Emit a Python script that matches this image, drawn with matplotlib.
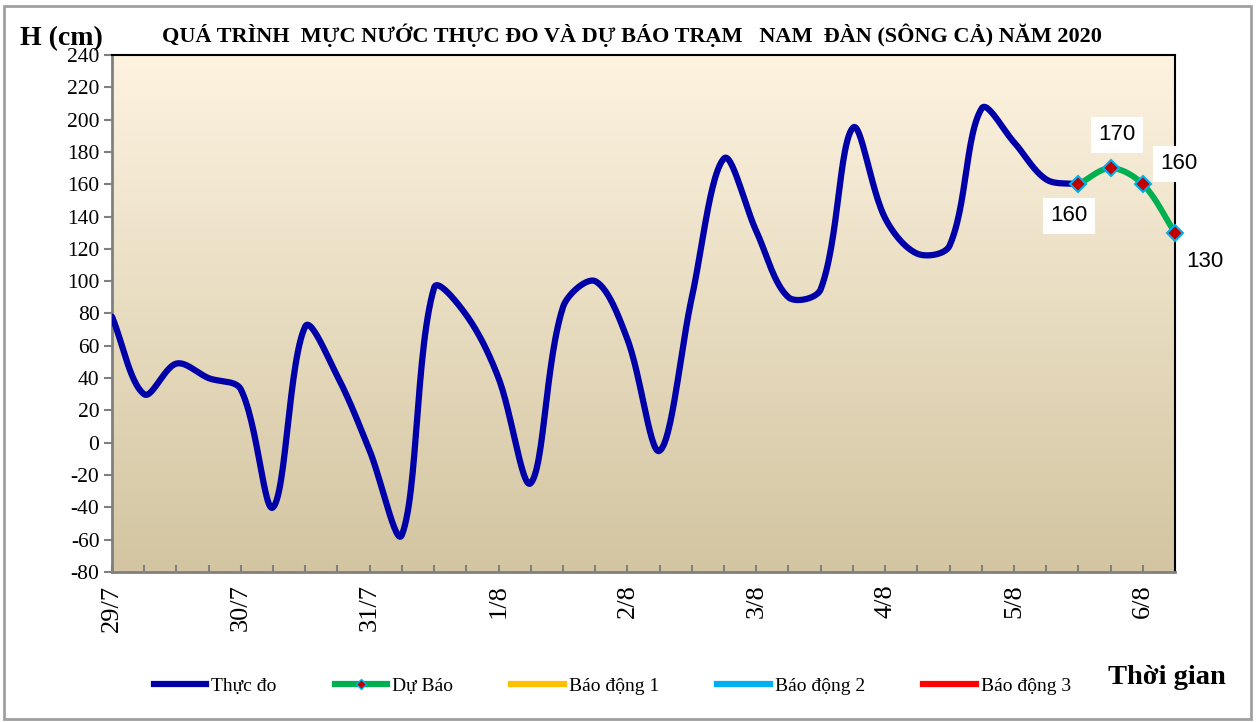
import numpy as np
import matplotlib
matplotlib.use("Agg")
import matplotlib.pyplot as plt
from matplotlib.lines import Line2D
from matplotlib.patches import Rectangle

plt.rcParams['axes.unicode_minus'] = False

# water level every 6 hours, 29/7 00h .. 6/8 06h
observed = [78, 30, 49, 40, 33, -40, 72, 41, -5, -57, 96, 79, 40, -25, 84, 100,
            64, -5, 90, 176, 131, 90, 95, 195, 139, 117, 122, 207, 186, 163, 160]
forecast = [160, 170, 160, 130]
forecast_start = 30
day_labels = ['29/7', '30/7', '31/7', '1/8', '2/8', '3/8', '4/8', '5/8', '6/8']
forecast_label_pos = [(-0.29, -19.5), (0.19, 20.6), (1.12, 12.6), (0.92, -18)]

serif = ['Liberation Serif', 'DejaVu Serif']

n_total = forecast_start + len(forecast)
AX_RECT = [0.0891, 0.2078, 0.8457, 0.716]
FIG_W, FIG_H = 1257, 722
px_x = AX_RECT[2] * FIG_W / (n_total - 1)
px_y = AX_RECT[3] * FIG_H / 320


def smooth(x, y, n=30):
    # bezier smoothing done in pixel space, arms scaled by segment lengths
    p = np.column_stack([np.asarray(x, float) * px_x, np.asarray(y, float) * px_y])
    m = len(p)
    tang_in, tang_out = [], []
    for i in range(m):
        a = p[max(i - 1, 0)]
        b = p[min(i + 1, m - 1)]
        d = b - a
        l0 = np.hypot(*(p[i] - a))
        l1 = np.hypot(*(b - p[i]))
        tot = l0 + l1 if l0 + l1 > 0 else 1
        tang_in.append(d / 6 * 2 * l0 / tot)
        tang_out.append(d / 6 * 2 * l1 / tot)
    xs, ys = [], []
    t = np.linspace(0, 1, n)[:, None]
    for i in range(m - 1):
        p1, p2 = p[i], p[i + 1]
        c1 = p1 + tang_out[i]
        c2 = p2 - tang_in[i + 1]
        b = (1 - t) ** 3 * p1 + 3 * (1 - t) ** 2 * t * c1 + 3 * (1 - t) * t ** 2 * c2 + t ** 3 * p2
        xs.extend(b[:, 0] / px_x)
        ys.extend(b[:, 1] / px_y)
    return np.array(xs), np.array(ys)


fig = plt.figure(figsize=(12.57, 7.22), dpi=100)
fig.patches.append(Rectangle((0.003, 0.004), 0.992, 0.988, transform=fig.transFigure,
                             fill=False, edgecolor='#a0a0a0', linewidth=2))
ax = fig.add_axes(AX_RECT)

x_obs = np.arange(len(observed))
x_fc = np.arange(forecast_start, n_total)

# gradient background
grad = np.linspace(0, 1, 256)[:, None]
top = np.array([253, 243, 224]) / 255
bot = np.array([211, 197, 161]) / 255
img = top + (bot - top) * grad[:, :, None]
ax.imshow(img, extent=[0, n_total - 1, -80, 240], aspect='auto', zorder=0, origin='upper')

sx, sy = smooth(x_obs, observed)
ax.plot(sx, sy, color='#0000A8', lw=4.5, solid_capstyle='round', zorder=3)
fx, fy = smooth(x_fc, forecast)
ax.plot(fx, fy, color='#00B050', lw=4.3, solid_capstyle='round', zorder=4)
ax.plot(x_fc, forecast, linestyle='none', marker='D', ms=8, mfc='#C00000',
        mec='#00B0F0', mew=1.5, zorder=5, clip_on=False)

for xi, v, (dx, dy) in zip(x_fc, forecast, forecast_label_pos):
    ax.text(xi + dx, v + dy, str(v), fontsize=16, family='Liberation Sans',
            ha='center', va='center', zorder=6, clip_on=False,
            bbox=dict(facecolor='white', edgecolor='none', pad=5.5))

ax.set_xlim(0, n_total - 1)
ax.set_ylim(-80, 240)
ax.set_yticks(np.arange(-80, 241, 20))
ax.set_xticks(np.arange(0, n_total), minor=True)
ax.set_xticks(np.arange(0, n_total, 4))
ax.set_xticklabels(day_labels, rotation=90, fontsize=19, family=serif)
for lab in ax.get_yticklabels():
    lab.set_fontsize(15.5)
    lab.set_family(serif)
ax.tick_params(axis='y', direction='out', length=6, color='#808080', width=1.5, pad=3)
ax.tick_params(axis='x', which='both', direction='in', length=5, color='#808080',
               width=1.5, pad=9)
for s in ['left', 'bottom']:
    ax.spines[s].set_color('#808080')
    ax.spines[s].set_linewidth(2)
for s in ['top', 'right']:
    ax.spines[s].set_color('black')
    ax.spines[s].set_linewidth(1.5)

fig.text(0.016, 0.947, 'H (cm)', fontsize=20, fontweight='bold', family=serif, va='center')
fig.text(0.503, 0.951, 'QUÁ TRÌNH  MỰC NƯỚC THỰC ĐO VÀ DỰ BÁO TRẠM   NAM  ĐÀN (SÔNG CẢ) NĂM 2020',
         fontsize=16, fontweight='bold', family=serif, ha='center', va='center')
fig.text(0.928, 0.062, 'Thời gian', fontsize=20.5, fontweight='bold', family=serif,
         ha='center', va='center')

handles = [
    Line2D([], [], color='#0000A8', lw=4.5),
    Line2D([], [], color='#00B050', lw=4.5, marker='D', ms=5, mfc='#C00000', mec='#00B0F0'),
    Line2D([], [], color='#FFC000', lw=4.5),
    Line2D([], [], color='#00B0F0', lw=4.5),
    Line2D([], [], color='#FF0000', lw=4.5),
]
names = ['Thực đo', 'Dự Báo', 'Báo động 1', 'Báo động 2', 'Báo động 3']
fig.legend(handles, names, loc='center', bbox_to_anchor=(0.487, 0.05), ncol=5,
           frameon=False, prop={'family': serif, 'size': 14}, handlelength=2.7,
           handletextpad=0.25, columnspacing=3.0)

fig.savefig('out.png', dpi=100)
